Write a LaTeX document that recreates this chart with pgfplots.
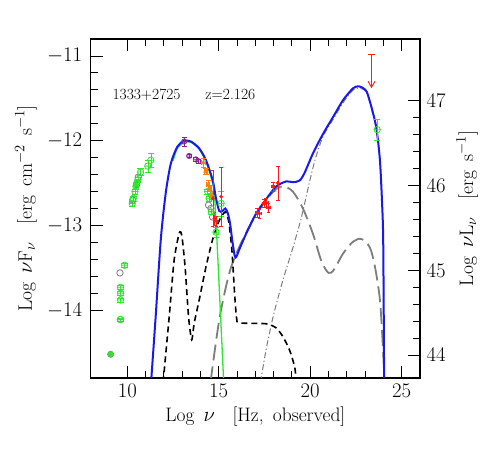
\documentclass[border=0pt]{standalone}
\usepackage{pgfplots}
\pgfplotsset{compat=1.18}
\usetikzlibrary{arrows.meta}

\definecolor{sedblue}{RGB}{25,25,235}
\definecolor{sedgreen}{RGB}{45,230,45}
\definecolor{sedgray}{RGB}{125,125,125}
\definecolor{sedpurple}{RGB}{135,35,145}
\definecolor{sedorange}{RGB}{255,125,10}
\definecolor{sedred}{RGB}{255,25,25}

% circle with a horizontal bar through it
\pgfdeclareplotmark{obar}{%
  \pgfpathcircle{\pgfpointorigin}{\pgfplotmarksize}%
  \pgfpathmoveto{\pgfqpoint{-\pgfplotmarksize}{0pt}}%
  \pgfpathlineto{\pgfqpoint{\pgfplotmarksize}{0pt}}%
  \pgfusepathqstroke}

\newcommand{\ticksfont}{\fontsize{20}{22}\selectfont}
\newcommand{\labfont}{\fontsize{19.5}{22}\selectfont}

\begin{document}
\begin{tikzpicture}
\path[use as bounding box] (-90.7pt,-85pt) rectangle (400.3pt,378pt);

\begin{axis}[
  at={(0,0)}, anchor=south west,
  width=329.3pt, height=339pt, scale only axis,
  xmin=8, xmax=26, ymin=-14.8, ymax=-10.8,
  xtick={10,15,20,25}, minor x tick num=4,
  ytick={-14,-13,-12,-11}, minor y tick num=4,
  ytick pos=left,
  tick align=inside,
  major tick length=12pt, minor tick length=7pt,
  tick style={line width=0.9pt, black},
  axis line style={line width=1.1pt},
  tick label style={font=\ticksfont},
  yticklabel style={xshift=-5pt},
  xticklabel style={yshift=-3pt},
  xlabel={Log\, $\nu$ \ \ [Hz,\, observed]},
  ylabel={Log\, $\nu$F$_\nu$ \ \ [erg\, cm$^{-2}$\, s$^{-1}$]},
  label style={font=\labfont},
  xlabel style={at={(axis description cs:0.5,-0.115)}, anchor=center},
  ylabel style={at={(axis description cs:-0.197,0.5)}, anchor=center},
  clip=true,
]

% external Compton (dash-dot)
\addplot[sedgray, line width=1pt, dash pattern=on 6pt off 2.5pt on 1.2pt off 2.5pt, smooth, tension=0.4] coordinates {
  (17.28,-14.85) (17.60,-14.45) (18.00,-14.05) (18.50,-13.65) (19.00,-13.30)
  (19.50,-12.92) (20.00,-12.45) (20.30,-12.20) (20.70,-11.95) (21.25,-11.75)
  (21.80,-11.55) (22.35,-11.40) (22.68,-11.38) (23.08,-11.43) (23.44,-11.70)
  (23.63,-11.89) (23.81,-12.25) (23.92,-12.72) (23.99,-13.22) (24.03,-14.85)
};

% SSC (long dashes)
\addplot[sedgray, line width=1.8pt, dash pattern=on 16pt off 6pt, smooth, tension=0.5] coordinates {
  (14.55,-14.85) (15.03,-14.11) (15.58,-13.56) (16.13,-13.25) (16.86,-12.94)
  (17.59,-12.70) (18.14,-12.57) (18.55,-12.54) (19.05,-12.60) (19.60,-12.80)
  (20.15,-13.10) (20.61,-13.42) (21.00,-13.56) (21.30,-13.52) (21.80,-13.33)
  (22.35,-13.19) (22.80,-13.16) (23.26,-13.26) (23.54,-13.49) (23.81,-13.88)
  (23.98,-14.47) (24.05,-14.85)
};

% torus + disk + corona (short dashes)
\addplot[black, line width=1.6pt, dash pattern=on 6pt off 4pt, smooth, tension=0.4] coordinates {
  (11.96,-14.85) (12.29,-14.08) (12.56,-13.41) (12.84,-13.09) (12.98,-13.12)
  (13.16,-13.49) (13.35,-14.08) (13.52,-14.35) (13.66,-14.15) (13.93,-13.88)
  (14.30,-13.49) (14.66,-13.17) (15.03,-12.94) (15.36,-12.84) (15.55,-12.96)
  (15.72,-13.30) (15.88,-13.85) (15.98,-14.10) (16.13,-14.15) (17.59,-14.16)
  (18.14,-14.21) (18.50,-14.31) (18.87,-14.47) (19.15,-14.67) (19.24,-14.85)
};

% synchrotron (green)
\addplot[sedgreen, line width=1.3pt, smooth, tension=0.4] coordinates {
  (12.50,-12.24) (12.74,-12.09) (13.11,-12.02) (13.48,-12.02) (13.93,-12.10)
  (14.30,-12.25) (14.60,-12.45) (14.80,-12.75) (15.27,-14.85)
};

% total (blue)
\addplot[sedblue, line width=2pt, smooth, tension=0.45] coordinates {
  (11.30,-14.85) (11.55,-14.08) (11.83,-13.17) (12.10,-12.62) (12.38,-12.27)
  (12.74,-12.07) (13.11,-12.00) (13.48,-12.01) (13.93,-12.09) (14.30,-12.23)
  (14.66,-12.46) (14.85,-12.68) (15.03,-12.83) (15.20,-12.83) (15.36,-12.80)
  (15.50,-12.86) (15.62,-12.98) (15.76,-13.21) (15.91,-13.38) (16.13,-13.28)
  (16.49,-13.10) (17.04,-12.86) (17.59,-12.69) (18.14,-12.54) (18.69,-12.48)
  (19.05,-12.49) (19.42,-12.47) (19.69,-12.38) (20.15,-12.15) (20.70,-11.92)
  (21.25,-11.72) (21.80,-11.52) (22.35,-11.38) (22.68,-11.36) (23.08,-11.42)
  (23.44,-11.68) (23.63,-11.87) (23.81,-12.23) (23.92,-12.70) (23.99,-13.20)
  (24.04,-14.85)
};

% gray archival points
\addplot[only marks, sedgray, mark=o, mark size=3.2pt, line width=0.8pt] coordinates {
  (9.60,-13.56) (9.63,-14.11) (10.30,-12.70) (10.50,-12.52) (10.60,-12.43)
  (14.44,-12.76) (14.57,-12.80) (14.66,-12.90)
};

% green points
\addplot[only marks, sedgreen, mark=obar, mark size=3.2pt, line width=0.8pt,
  error bars/.cd, y dir=both, y explicit] coordinates {
  (9.85,-13.47) +- (0,0.02)
  (9.63,-13.73) +- (0,0.02)
  (9.63,-13.80) +- (0,0.02)
  (9.63,-13.88) +- (0,0.02)
  (9.63,-14.11) +- (0,0.02)
  (10.27,-12.74) +- (0,0.03)
  (10.33,-12.68) +- (0,0.03)
  (10.42,-12.60) +- (0,0.03)
  (10.47,-12.54) +- (0,0.03)
  (10.52,-12.50) +- (0,0.03)
  (10.58,-12.46) +- (0,0.03)
  (10.73,-12.37) +- (0,0.04)
  (11.12,-12.30) +- (0,0.07)
  (11.28,-12.23) +- (0,0.08)
  (14.39,-12.60) +- (0,0.03)
  (14.48,-12.68) +- (0,0.03)
  (14.59,-12.84) +- (0,0.03)
  (14.85,-13.08) +- (0,0.06)
  (15.13,-12.74) +- (0,0.15)
  (23.66,-11.87) +- (0,0.12)
};
\addplot[only marks, mark=*, mark size=3.2pt, draw=sedgray, fill=sedgreen] coordinates {
  (9.09,-14.52)
};

% purple points
\addplot[only marks, sedpurple, mark=obar, mark size=2.6pt, line width=0.8pt,
  error bars/.cd, y dir=both, y explicit] coordinates {
  (13.11,-12.01) +- (0,0.05)
  (13.38,-12.18) +- (0,0.02)
  (13.75,-12.22) +- (0,0.02)
  (13.88,-12.24) +- (0,0.02)
};

% orange triangles
\addplot[only marks, sedorange, mark=triangle*, mark size=2.6pt,
  error bars/.cd, y dir=both, y explicit, x dir=both, x explicit] coordinates {
  (14.16,-12.26) +- (0.10,0.05)
  (14.30,-12.36) +- (0.08,0.04)
  (14.42,-12.52) +- (0.08,0.05)
  (14.52,-12.57) +- (0.08,0.05)
  (14.62,-12.64) +- (0.08,0.05)
};

% red points
\addplot[only marks, sedred, mark=*, mark size=1.7pt,
  error bars/.cd, y dir=both, y explicit, x dir=both, x explicit] coordinates {
  (14.67,-12.68) +- (0.02,0.33)
  (14.76,-12.92) +- (0.02,0.08)
  (14.88,-12.95) +- (0.02,0.06)
  (15.13,-12.66) +- (0.02,0.35)
  (17.10,-12.85) +- (0.12,0.05)
  (17.22,-12.86) +- (0.10,0.05)
  (17.46,-12.74) +- (0.10,0.05)
  (17.59,-12.73) +- (0.10,0.05)
  (17.72,-12.79) +- (0.10,0.05)
  (17.96,-12.54) +- (0.08,0.05)
  (18.23,-12.50) +- (0.03,0.20)
};

% upper limit
\addplot[sedred, line width=0.9pt, -{Straight Barb[length=6pt,width=7pt]}] coordinates {
  (23.35,-10.98) (23.35,-11.38)
};
\addplot[only marks, sedred, mark=-, mark size=3.5pt, line width=0.9pt] coordinates {
  (23.35,-10.98)
};

\node[anchor=west, font=\fontsize{15.5}{18}\selectfont] at (axis cs:9.0,-11.46) {1333+2725 \quad\ z=2.126};
\end{axis}

\begin{axis}[
  at={(0,0)}, anchor=south west,
  width=329.3pt, height=339pt, scale only axis,
  xmin=8, xmax=26, ymin=43.73, ymax=47.73,
  axis x line=none, axis y line*=right,
  ytick={44,45,46,47}, minor y tick num=4,
  tick align=inside,
  major tick length=12pt, minor tick length=7pt,
  tick style={line width=0.9pt, black},
  axis line style={line width=1.1pt},
  tick label style={font=\ticksfont},
  yticklabel style={xshift=3pt},
  ylabel={Log\, $\nu$L$_\nu$ \ \ [erg\, s$^{-1}$]},
  label style={font=\labfont},
  ylabel style={at={(axis description cs:1.143,0.5)}, anchor=center},
]
\addplot[draw=none] coordinates {(8,44)};
\end{axis}
\end{tikzpicture}
\end{document}
